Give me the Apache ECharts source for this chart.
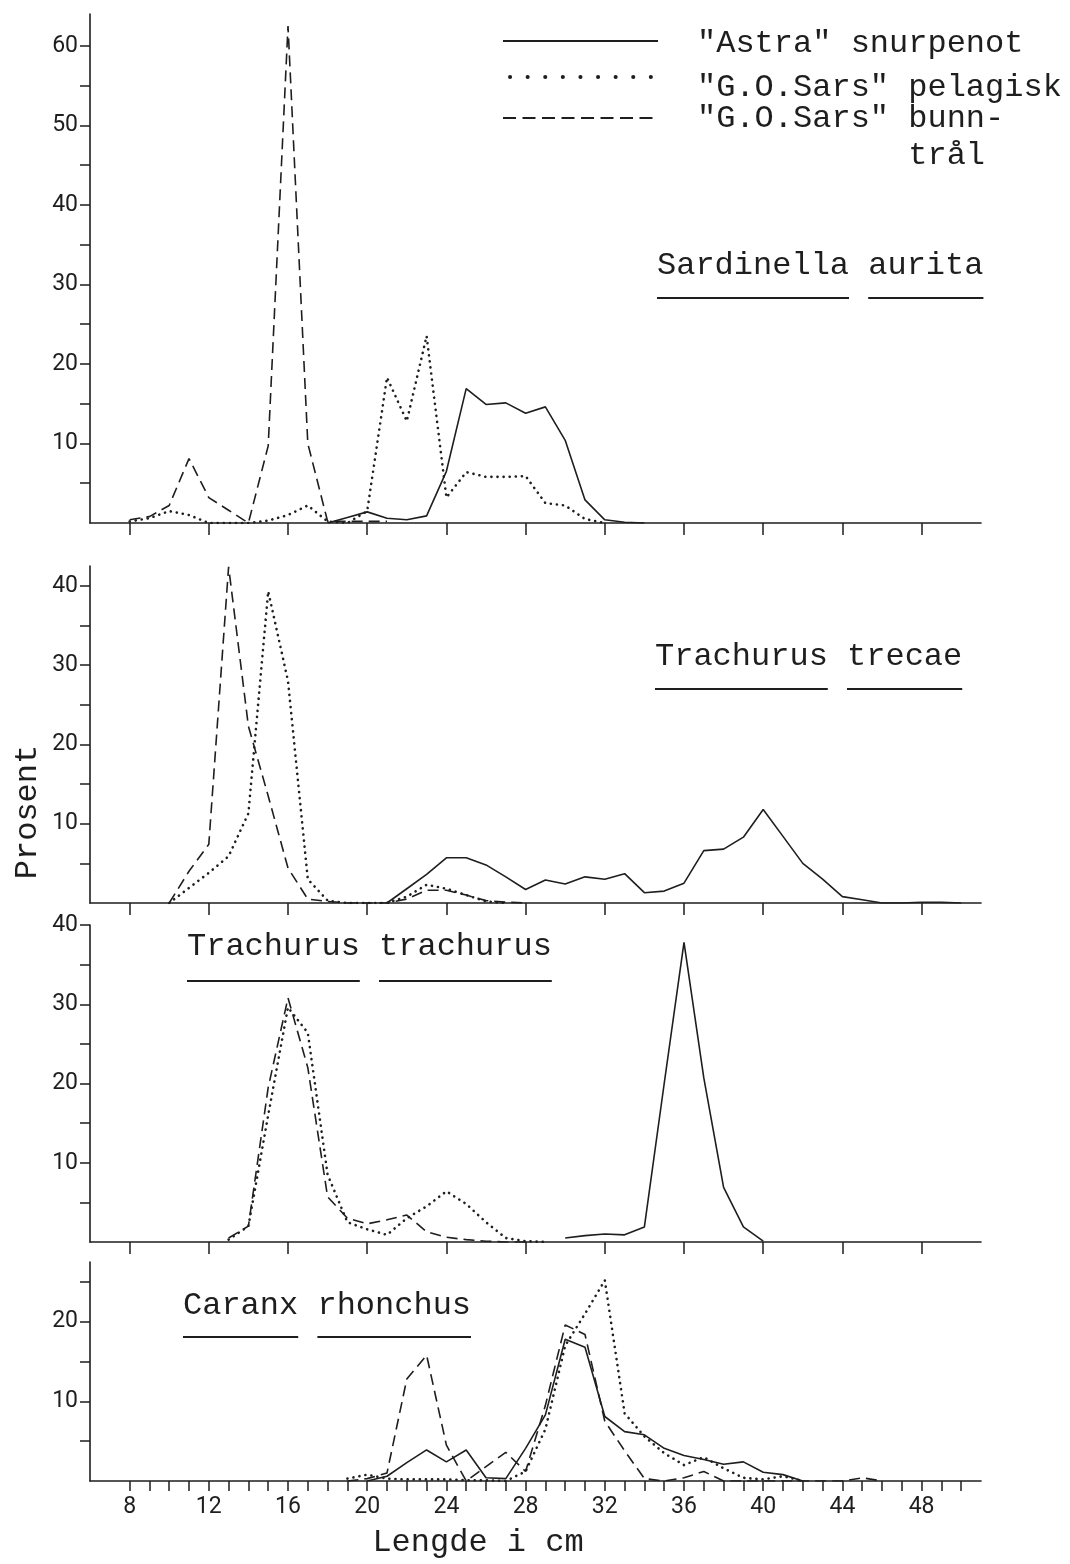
<!DOCTYPE html>
<html>
<head>
<meta charset="utf-8">
<script src="https://cdn.jsdelivr.net/npm/echarts@6.0.0/dist/echarts.min.js"></script>
<style>
  html, body { margin: 0; padding: 0; background: #fff; }
  #chart { width: 1070px; height: 1564px; }
</style>
</head>
<body>
<div id="chart"></div>
<script>
// lengde (cm), felles for alle panel: 8 .. 50
const LENGTHS = [8, 9, 10, 11, 12, 13, 14, 15, 16, 17, 18, 19, 20, 21, 22, 23, 24, 25, 26, 27, 28, 29,
  30, 31, 32, 33, 34, 35, 36, 37, 38, 39, 40, 41, 42, 43, 44, 45, 46, 47, 48, 49, 50];

// Sardinella aurita
const sardAstra = [null, null, null, null, null, null, null, null, null, null,
  0, 0.7, 1.4, 0.6, 0.4, 0.9, 6.5, 16.9, 14.9, 15.1, 13.8, 14.6, 10.4, 2.9, 0.4, 0.1, 0,
  null, null, null, null, null, null, null, null, null, null, null, null, null, null, null, null];
const sardPelagisk = [0.2, 0.6, 1.5, 1.0, 0, 0, 0, 0.3, 1.0, 2.2, 0.2, 0, 1.5, 18.3, 12.8, 23.5, 3.2,
  6.4, 5.8, 5.8, 5.9, 2.5, 2.2, 0.5, 0,
  null, null, null, null, null, null, null, null, null, null, null, null, null, null, null, null, null, null];
const sardBunn = [0.4, 0.8, 2.2, 8.1, 3.2, 1.6, 0, 9.7, 62.5, 10.0, 0.2, 0.2, 0.2, 0.2,
  null, null, null, null, null, null, null, null, null, null, null, null, null, null, null, null,
  null, null, null, null, null, null, null, null, null, null, null, null, null];

// Trachurus trecae
const trecAstra = [null, null, null, null, null, null, null, null, null, null, null, null, null,
  0, 1.8, 3.6, 5.7, 5.7, 4.8, 3.3, 1.7, 2.9, 2.4, 3.3, 3.0, 3.7, 1.3, 1.5, 2.5, 6.6, 6.8, 8.3,
  11.8, 8.4, 5.0, 3.0, 0.8, 0.4, 0, 0, 0.1, 0.1, 0];
const trecPelagisk = [null, null, 0, 1.9, 3.8, 5.9, 11.3, 39.3, 28, 3.0, 0.3, 0, 0, 0, 0.8, 2.3, 1.8, 1.0, 0.2, 0,
  null, null, null, null, null, null, null, null, null, null, null, null, null, null, null, null,
  null, null, null, null, null, null, null];
const trecBunn = [null, null, 0, 4.0, 7.4, 42.4, 22.3, 13.5, 4.4, 0.5, 0.2, 0, 0, 0, 0.5, 1.6, 1.6, 1.0, 0.3, 0.1, 0,
  null, null, null, null, null, null, null, null, null, null, null, null, null, null, null, null,
  null, null, null, null, null, null];

// Trachurus trachurus
const trachAstra = [null, null, null, null, null, null, null, null, null, null, null, null, null, null,
  null, null, null, null, null, null, null, null,
  0.5, 0.8, 1.0, 0.9, 1.9, 20.0, 37.8, 20.7, 6.9, 1.9, 0.1,
  null, null, null, null, null, null, null, null, null, null];
const trachPelagisk = [null, null, null, null, null,
  0.3, 2.0, 16.0, 29.6, 26.4, 8.5, 2.5, 1.6, 0.9, 3.0, 4.5, 6.4, 4.8, 2.5, 0.5, 0.1, 0,
  null, null, null, null, null, null, null, null, null, null, null, null, null, null, null, null,
  null, null, null, null, null];
const trachBunn = [null, null, null, null, null,
  0.5, 2.0, 19.5, 30.8, 22.0, 5.7, 3.0, 2.3, 2.8, 3.4, 1.3, 0.6, 0.3, 0.1, 0, 0,
  null, null, null, null, null, null, null, null, null, null, null, null, null, null, null, null,
  null, null, null, null, null, null];

// Caranx rhonchus
const caraAstra = [null, null, null, null, null, null, null, null, null, null, null, null,
  0, 0.6, 2.3, 3.9, 2.4, 3.9, 0.4, 0.3, 4.1, 8.3, 17.8, 16.8, 8.1, 6.2, 5.8, 4.1, 3.2, 2.7, 2.1,
  2.4, 1.1, 0.8, 0,
  null, null, null, null, null, null, null, null];
const caraPelagisk = [null, null, null, null, null, null, null, null, null, null, null,
  0.3, 0.8, 0.3, 0.2, 0.2, 0.2, 0.1, 0.1, 0, 1.2, 6.5, 17.0, 21.0, 25.2, 8.5, 5.6, 3.5, 2.0, 3.0,
  1.6, 0.4, 0.2, 0.6, 0,
  null, null, null, null, null, null, null, null];
const caraBunn = [null, null, null, null, null, null, null, null, null, null, null,
  0, 0.3, 1.0, 12.8, 15.8, 4.5, 0, 1.8, 3.6, 1.2, 9.5, 19.6, 18.4, 7.5, 3.8, 0.3, 0, 0.4, 1.2,
  0, 0, 0, 0, 0, 0, 0, 0.4, 0,
  null, null, null, null];

// akser
const X_TICKS = [8, 12, 16, 20, 24, 28, 32, 36, 40, 44, 48];
const X_TICKS_FINE = [8, 9, 10, 11, 12, 13, 14, 15, 16, 17, 18, 19, 20, 21, 22, 23, 24, 25, 26, 27, 28,
  29, 30, 31, 32, 33, 34, 35, 36, 37, 38, 39, 40, 41, 42, 43, 44, 45, 46, 47, 48, 49, 50];
const X_LABELS = [8, 12, 16, 20, 24, 28, 32, 36, 40, 44, 48];
const Y_TICKS_60 = [5, 10, 15, 20, 25, 30, 35, 40, 45, 50, 55, 60];
const Y_LABELS_60 = [10, 20, 30, 40, 50, 60];
const Y_TICKS_40 = [5, 10, 15, 20, 25, 30, 35, 40];
const Y_LABELS_40 = [10, 20, 30, 40];
const Y_TICKS_25 = [5, 10, 15, 20, 25];
const Y_LABELS_20 = [10, 20];
const Y_MAX = [64, 42.5, 40, 27.5];

const SPECIES = ['Sardinella aurita', 'Trachurus trecae', 'Trachurus trachurus', 'Caranx rhonchus'];

const INK = '#1e1e1e';
const MONO = '"Liberation Mono", "DejaVu Sans Mono", monospace';
const SANS = 'Roboto, "DejaVu Sans", sans-serif';

const mChart = echarts.init(document.getElementById('chart'), null, { renderer: 'canvas' });

// panelenes plassering
const grids = [
  { left: 90, width: 891, top: 14, height: 509 },
  { left: 90, width: 891, top: 566, height: 337 },
  { left: 90, width: 891, top: 925, height: 317 },
  { left: 90, width: 891, top: 1262, height: 219 }
];

const yTicks = [Y_TICKS_60, Y_TICKS_40, Y_TICKS_40, Y_TICKS_25];
const yLabels = [Y_LABELS_60, Y_LABELS_40, Y_LABELS_40, Y_LABELS_20];

const xAxis = grids.map((g, i) => ({
  gridIndex: i,
  type: 'value',
  min: 6,
  max: 51,
  axisLine: { show: true, onZero: false, lineStyle: { color: INK, width: 1.6 } },
  axisTick: {
    show: true,
    inside: false,
    length: i === 3 ? 10 : 12,
    customValues: i === 3 ? X_TICKS_FINE : X_TICKS,
    lineStyle: { color: INK, width: 1.5 }
  },
  axisLabel: {
    show: i === 3,
    customValues: X_LABELS,
    color: INK,
    fontFamily: SANS,
    fontSize: 23,
    margin: 15
  },
  splitLine: { show: false }
}));

const yAxis = grids.map((g, i) => ({
  gridIndex: i,
  type: 'value',
  min: 0,
  max: Y_MAX[i],
  axisLine: { show: true, onZero: false, lineStyle: { color: INK, width: 1.6 } },
  axisTick: {
    show: true,
    length: 10,
    customValues: yTicks[i],
    lineStyle: { color: INK, width: 1.5 }
  },
  axisLabel: {
    customValues: yLabels[i],
    color: INK,
    fontFamily: SANS,
    fontSize: 23,
    margin: 12
  },
  splitLine: { show: false }
}));

// linjetyper: snurpenot = hel, pelagisk = prikket, bunntrål = stiplet
const styles = {
  solid: { color: INK, width: 1.6, type: 'solid' },
  dotted: { color: INK, width: 2.6, type: [0.1, 6], cap: 'round' },
  dashed: { color: INK, width: 1.6, type: [11, 6] }
};

const toPairs = (vals) => LENGTHS.map((x, k) => [x, vals[k]]).filter(p => p[1] !== null);

const panelData = [
  [sardAstra, sardPelagisk, sardBunn],
  [trecAstra, trecPelagisk, trecBunn],
  [trachAstra, trachPelagisk, trachBunn],
  [caraAstra, caraPelagisk, caraBunn]
];
const kinds = ['solid', 'dotted', 'dashed'];
const names = ['"Astra" snurpenot', '"G.O.Sars" pelagisk', '"G.O.Sars" bunntrål'];

const series = [];
panelData.forEach((sets, i) => {
  sets.forEach((vals, j) => {
    series.push({
      name: names[j],
      type: 'line',
      xAxisIndex: i,
      yAxisIndex: i,
      data: toPairs(vals),
      symbol: 'none',
      silent: true,
      lineStyle: styles[kinds[j]]
    })
  })
});

// artsnavn med understreking (skrivemaskin-stil)
const CW = 19.2;
const titlePos = [
  { x: 657, y: 266, u: 32 },
  { x: 655, y: 657, u: 32 },
  { x: 187, y: 947, u: 34 },
  { x: 183, y: 1306, u: 31 }
];
const graphic = [];
SPECIES.forEach((name, i) => {
  const p = titlePos[i];
  graphic.push({
    type: 'text', x: p.x, y: p.y,
    style: { text: name, font: '32px ' + MONO, fill: INK, textAlign: 'left', textVerticalAlign: 'middle', align: 'left', verticalAlign: 'middle' }
  });
  let start = 0;
  name.split(' ').forEach(word => {
    graphic.push({
      type: 'line',
      shape: { x1: p.x + start * CW, y1: p.y + p.u, x2: p.x + (start + word.length) * CW, y2: p.y + p.u },
      style: { stroke: INK, lineWidth: 2 }
    });
    start += word.length + 1;
  });
});

// tegnforklaring
const legendRows = [
  { kind: 'solid', y: 41, ty: 42, text: '"Astra" snurpenot' },
  { kind: 'dotted', y: 77, ty: 86, text: '"G.O.Sars" pelagisk' },
  { kind: 'dashed', y: 118, ty: 117, text: '"G.O.Sars" bunn-\n           trål' }
];
legendRows.forEach(r => {
  const st = { stroke: INK, lineWidth: 2 };
  let x1 = 503, x2 = 658;
  if (r.kind === 'dotted') { st.lineWidth = 4; st.lineDash = [0.1, 17.5]; st.lineCap = 'round'; x1 = 510; x2 = 652; }
  if (r.kind === 'dashed') { st.lineDash = [13, 6.5]; }
  graphic.push({ type: 'line', shape: { x1: x1, y1: r.y, x2: x2, y2: r.y }, style: st });
  graphic.push({
    type: 'text', x: 697,
    style: { text: r.text, font: '32px ' + MONO, fill: INK, lineHeight: 37, textAlign: 'left', textVerticalAlign: 'top', align: 'left', verticalAlign: 'top' },
    y: r.ty - 17
  });
});

// aksetitler
graphic.push({
  type: 'text', x: 28, y: 812, rotation: Math.PI / 2,
  style: { text: 'Prosent', font: '32px ' + MONO, fill: INK, textAlign: 'center', textVerticalAlign: 'middle', align: 'center', verticalAlign: 'middle' }
});
graphic.push({
  type: 'text', x: 478, y: 1543,
  style: { text: 'Lengde i cm', font: '32px ' + MONO, fill: INK, textAlign: 'center', textVerticalAlign: 'middle', align: 'center', verticalAlign: 'middle' }
});

const options = {
  backgroundColor: '#ffffff',
  animation: false,
  grid: grids,
  xAxis: xAxis,
  yAxis: yAxis,
  series: series,
  graphic: graphic
};

mChart.setOption(options);
</script>
</body>
</html>
